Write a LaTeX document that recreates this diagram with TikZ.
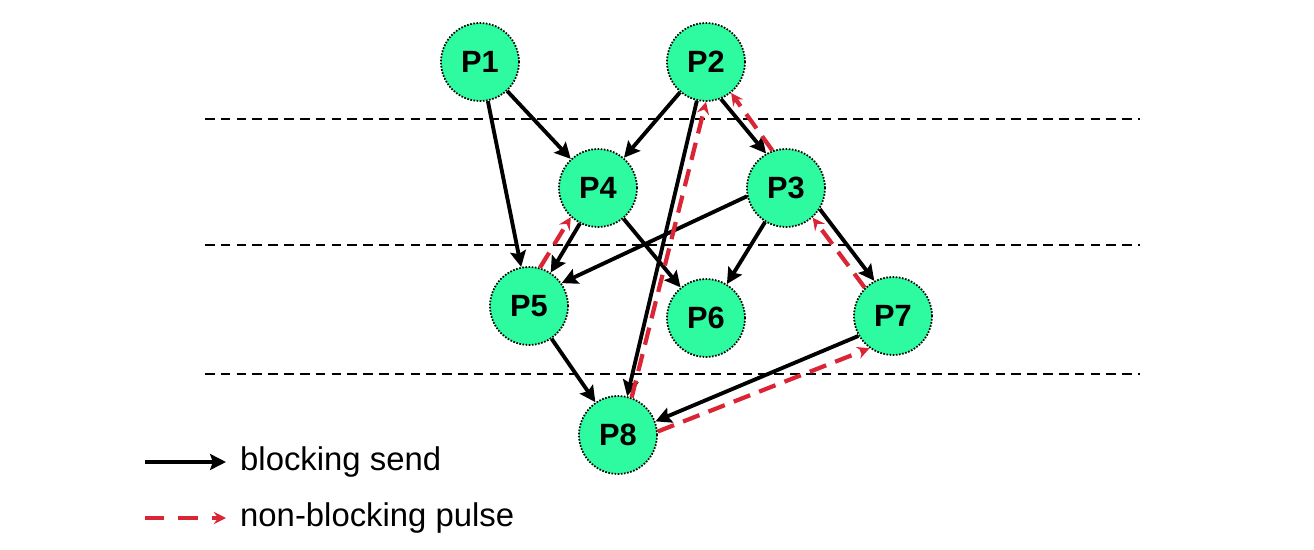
\documentclass[tikz,border=0pt]{standalone}
\usepackage{fontspec}
\setmainfont{Liberation Sans}
\usetikzlibrary{arrows.meta}
\definecolor{procgreen}{RGB}{46,250,160}
\definecolor{pulsered}{RGB}{218,38,52}

\begin{document}
\begin{tikzpicture}[x=0.02cm, y=-0.02cm,
        proc/.style={circle, fill=procgreen, draw=black, dash pattern=on 0.9pt off 0.9pt, line width=1pt,
            minimum size=1.56cm, inner sep=0pt, font=\fontsize{17.5}{20}\selectfont\bfseries},
        send/.style={line width=2.2pt, -{Stealth[length=9pt, width=9pt, inset=1.5pt]}},
        pulse/.style={pulsered, line width=2.4pt, dash pattern=on 10pt off 5.5pt,
            -{Stealth[length=7pt, width=7pt, inset=2.5pt]}},
        level/.style={line width=0.9pt, dash pattern=on 5.5pt off 3.5pt},
        legendtext/.style={anchor=west, font=\fontsize{18.7}{22}\selectfont}]
    \useasboundingbox (0,0) rectangle (1314,550);
    % level separators
    \foreach \y in {119,245,374}
        \draw[level] (205,\y) -- (1140,\y);
    % processes
    \node[proc] (P1) at (480,62) {P1};
    \node[proc] (P2) at (706,62) {P2};
    \node[proc] (P3) at (786,188) {P3};
    \node[proc] (P4) at (598,188) {P4};
    \node[proc] (P5) at (529,306) {P5};
    \node[proc] (P6) at (706,318) {P6};
    \node[proc] (P7) at (893,316) {P7};
    \node[proc] (P8) at (618,435) {P8};
    % blocking sends
    \draw[send] (P1) -- (P4);
    \draw[send] (P1) -- (P5);
    \draw[send] (P2) -- (P4);
    \draw[send] (P2.-68) -- (P3.120);
    \draw[send] (P2) -- (P8);
    \draw[send] (P3.192) -- (P5.35);
    \draw[send] (P3) -- (P6);
    \draw[send] (P3.-32) -- (P7.118);
    \draw[send] (P4.-117) -- (P5.57);
    \draw[send] (P4) -- (P6);
    \draw[send] (P5) -- (P8);
    \draw[send] (P7.-150) -- (P8.20);
    % non-blocking pulses
    \draw[pulse] (P5.74) -- (P4.-133);
    \draw[pulse] (P8.70) -- (P2.-90);
    \draw[pulse] (P3.110) -- (P2.-51);
    \draw[pulse] (P7.135) -- (P3.-48);
    \draw[pulse] (P8.5) -- (P7.-126);
    % legend
    \coordinate (sendA) at (145,462);
    \coordinate (sendB) at (226,462);
    \coordinate (pulseA) at (145,518);
    \coordinate (pulseB) at (226,518);
    \draw[send] (sendA) -- (sendB);
    \draw[pulse, dash pattern=on 11pt off 8pt] (pulseA) -- (pulseB);
    \node[legendtext] (sendlabel) at (234,462) {blocking send};
    \node[legendtext] (pulselabel) at (234,518) {non-blocking pulse};
\end{tikzpicture}
\end{document}
